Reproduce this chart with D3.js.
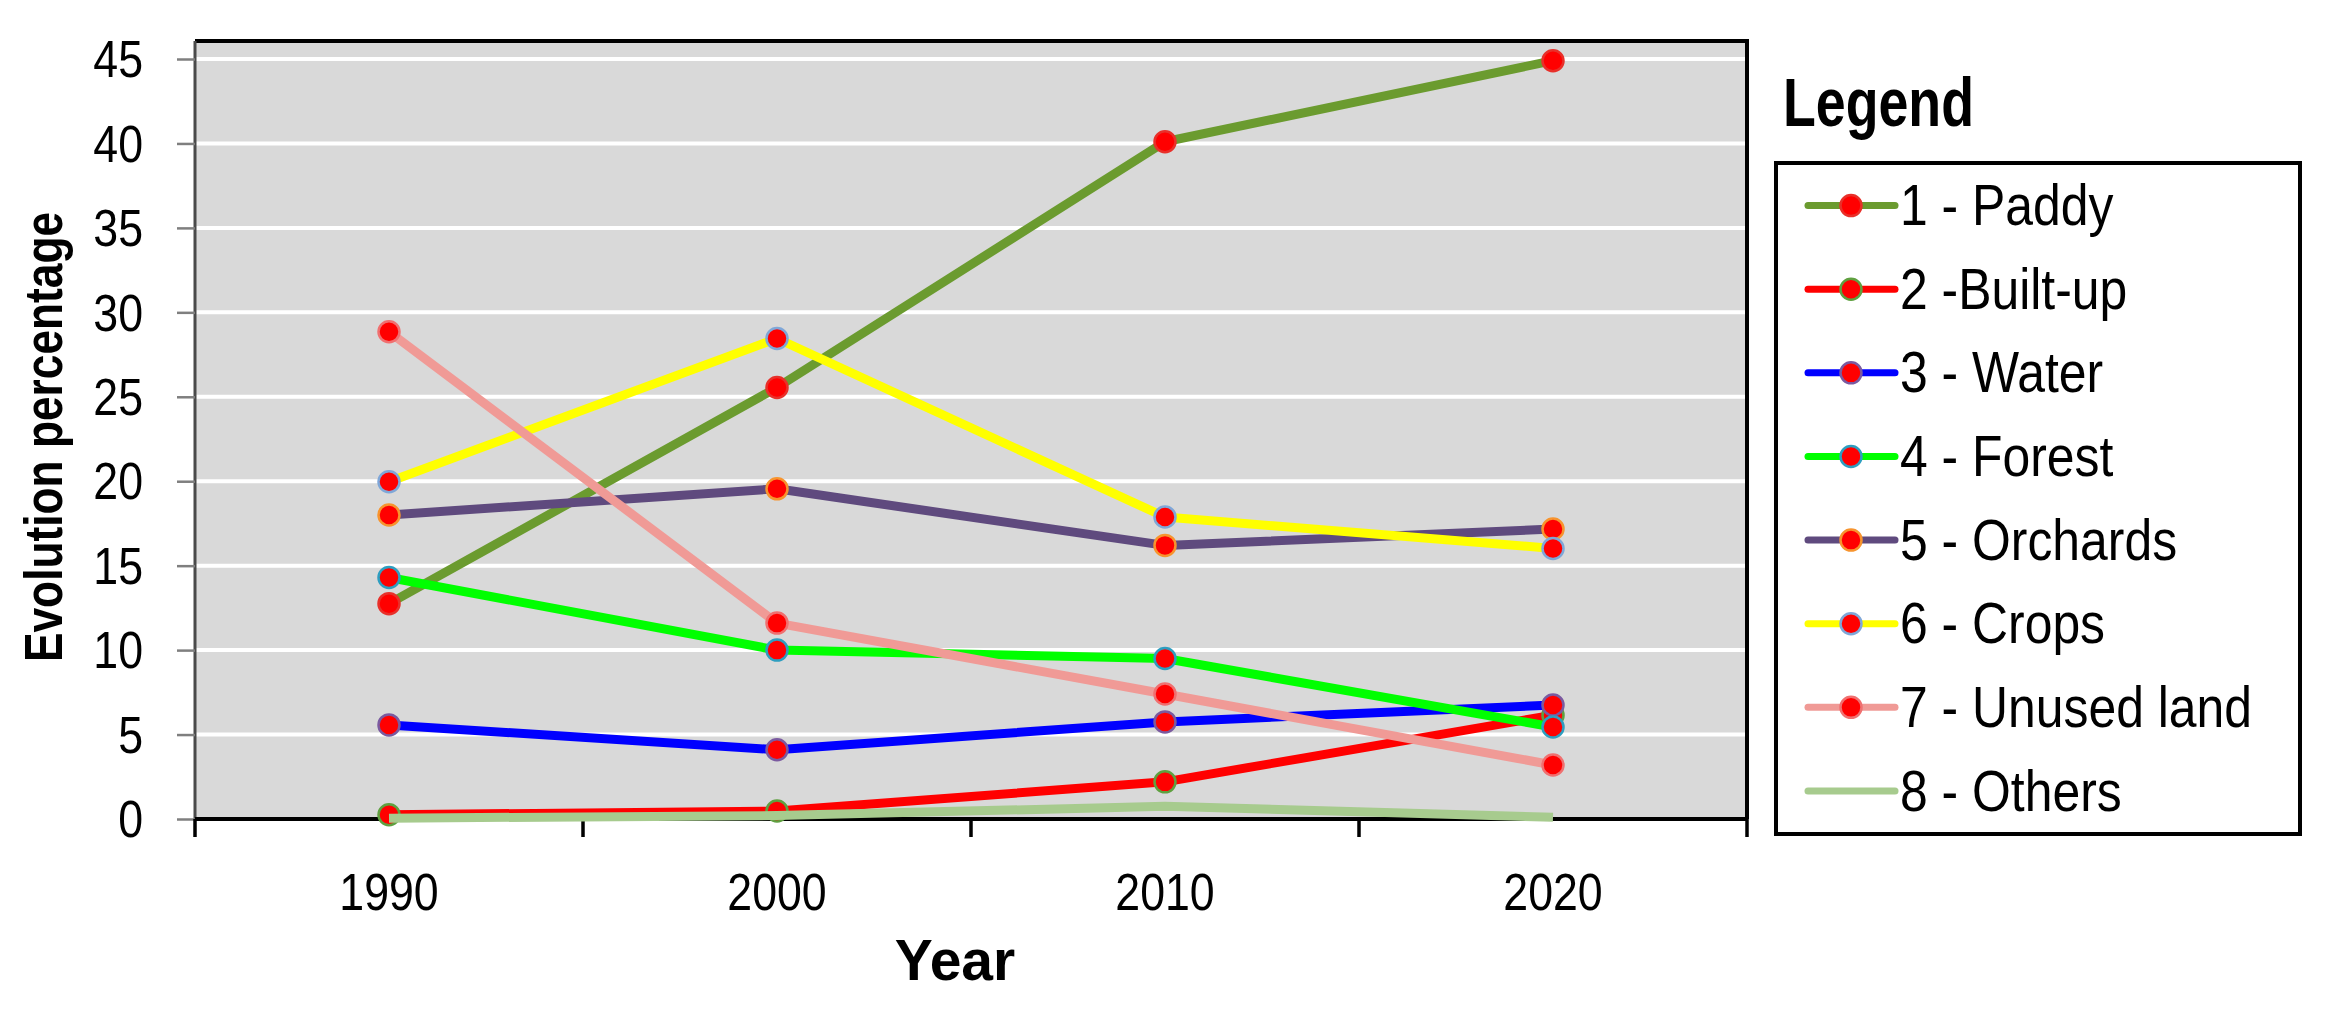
<!DOCTYPE html>
<html>
<head>
<meta charset="utf-8">
<script src="https://cdn.jsdelivr.net/npm/d3@7"></script>
<style>
  html, body { margin: 0; padding: 0; background: #ffffff; }
  svg { display: block; }
  text { font-family: "Liberation Sans", Arial, sans-serif; fill: #000; }
</style>
</head>
<body>
<svg id="chart" width="2337" height="1023"></svg>
<script>
// ---------------- data ----------------
const years = ["1990", "2000", "2010", "2020"];
const seriesNames = ["1 - Paddy", "2 -Built-up", "3 - Water", "4 - Forest", "5 - Orchards", "6 - Crops", "7 - Unused land", "8 - Others"];
const paddy    = [12.75, 25.55, 40.1, 44.9];
const builtUp  = [0.25, 0.47, 2.2, 6.15];
const water    = [5.57, 4.1, 5.75, 6.75];
const forest   = [14.3, 10.0, 9.5, 5.45];
const orchards = [18.0, 19.55, 16.2, 17.17];
const crops    = [19.97, 28.45, 17.88, 16.02];
const unused   = [28.85, 11.6, 7.4, 3.2];
const others   = [0.05, 0.2, 0.75, 0.1];
const yTicks = [0, 5, 10, 15, 20, 25, 30, 35, 40, 45];
const gridValues = [5, 10, 15, 20, 25, 30, 35, 40, 45];

// ---------------- styles ----------------
const lineColors   = ["#6B9B2F", "#FF0000", "#0000FF", "#00FF00", "#5F4A7E", "#FFFF00", "#F09A96", "#A7CB8E"];
const markerEdges  = ["#E8302A", "#5FA040", "#7A5AA0", "#2E9EC0", "#F7942E", "#7FA7D8", "#F07070", null];
const allValues = [paddy, builtUp, water, forest, orchards, crops, unused, others];

const svg = d3.select("#chart");

const left = 195, right = 1747, bottom = 819, top45 = 59, plotTop = 41;
const x = d3.scaleBand().domain(years).range([left, right]).padding(0);
const y = d3.scaleLinear().domain([0, 45]).range([bottom, top45]);
const cx = d => x(d) + x.bandwidth() / 2;

function squeeze(sel, k) {
  sel.each(function () {
    const t = d3.select(this);
    const tx = +t.attr("x") || 0;
    t.attr("transform", `translate(${tx},0) scale(${k},1) translate(${-tx},0)`);
  });
}

// plot background
svg.append("rect").attr("x", left).attr("y", plotTop)
  .attr("width", right - left).attr("height", bottom - plotTop)
  .attr("fill", "#D9D9D9");

// gridlines
svg.append("g").selectAll("line").data(gridValues).join("line")
  .attr("x1", left).attr("x2", right)
  .attr("y1", d => y(d)).attr("y2", d => y(d))
  .attr("stroke", "#FFFFFF").attr("stroke-width", 4);

// border top & right
svg.append("path")
  .attr("d", `M${left},${plotTop}H${right}V${bottom}`)
  .attr("fill", "none").attr("stroke", "#000").attr("stroke-width", 4);

// y axis
const yAxis = svg.append("g").attr("transform", `translate(${left},0)`)
  .call(d3.axisLeft(y).tickValues(yTicks).tickSize(18).tickPadding(34).tickFormat(d3.format("d")));
yAxis.select(".domain").attr("stroke", "#4a4a4a").attr("stroke-width", 3)
  .attr("d", `M0,${plotTop}V${bottom}`);
yAxis.selectAll(".tick line").attr("stroke", "#7f7f7f").attr("stroke-width", 2.5);
yAxis.selectAll(".tick text").attr("font-size", 52).attr("font-family", "Liberation Sans, Arial, sans-serif")
  .attr("dy", "0.34em").call(squeeze, 0.86);

// x axis (labels)
const xAxis = svg.append("g").attr("transform", `translate(0,${bottom})`)
  .call(d3.axisBottom(x).tickSize(0).tickPadding(54));
xAxis.select(".domain").attr("stroke", "#000").attr("stroke-width", 4)
  .attr("d", `M${left},0H${right}`);
xAxis.selectAll(".tick text").attr("font-size", 52).attr("font-family", "Liberation Sans, Arial, sans-serif")
  .call(squeeze, 0.86);
// x boundary ticks
const boundaries = years.map(d => x(d)).concat([x.range()[1]]);
svg.append("g").selectAll("line").data(boundaries).join("line")
  .attr("x1", d => d).attr("x2", d => d)
  .attr("y1", bottom).attr("y2", bottom + 18)
  .attr("stroke", "#000").attr("stroke-width", 3.5);

// series
const line = d3.line().x((d, i) => cx(years[i])).y(d => y(d));
allValues.forEach((vals, s) => {
  const g = svg.append("g");
  g.append("path").datum(vals).attr("d", line)
    .attr("fill", "none").attr("stroke", lineColors[s]).attr("stroke-width", 9)
    .attr("stroke-linejoin", "round");
  if (markerEdges[s]) {
    g.selectAll("circle").data(vals).join("circle")
      .attr("cx", (d, i) => cx(years[i])).attr("cy", d => y(d)).attr("r", 10.5)
      .attr("fill", "#FF0000").attr("stroke", markerEdges[s]).attr("stroke-width", 2.5);
  }
});

// axis titles
svg.append("text").attr("x", 955).attr("y", 980).attr("text-anchor", "middle")
  .attr("font-size", 57).attr("font-weight", "bold").text("Year");
svg.append("g").attr("transform", "translate(62,437) rotate(-90) scale(0.82,1)")
  .append("text").attr("x", 0).attr("y", 0).attr("text-anchor", "middle")
  .attr("font-size", 54).attr("font-weight", "bold").text("Evolution percentage");

// legend
svg.append("text").attr("x", 1783).attr("y", 126).attr("font-size", 68).attr("font-weight", "bold")
  .text("Legend").call(squeeze, 0.79);
svg.append("rect").attr("x", 1776).attr("y", 163).attr("width", 524).attr("height", 671)
  .attr("fill", "#fff").attr("stroke", "#000").attr("stroke-width", 4);
const rowY = d3.scaleLinear().domain([0, 7]).range([205.6, 791]);
const leg = svg.append("g").selectAll("g").data(seriesNames).join("g")
  .attr("transform", (d, i) => `translate(0,${rowY(i)})`);
leg.append("line").attr("x1", 1808).attr("x2", 1895).attr("y1", 0).attr("y2", 0)
  .attr("stroke", (d, i) => lineColors[i]).attr("stroke-width", 7).attr("stroke-linecap", "round");
leg.filter((d, i) => markerEdges[i]).append("circle").attr("cx", 1851).attr("cy", 0).attr("r", 10.5)
  .attr("fill", "#FF0000").attr("stroke", (d) => markerEdges[seriesNames.indexOf(d)]).attr("stroke-width", 2.5);
leg.append("text").attr("x", 1900).attr("y", 19.5).attr("font-size", 58)
  .style("white-space", "pre").text(d => d).call(squeeze, 0.86);
</script>
</body>
</html>
